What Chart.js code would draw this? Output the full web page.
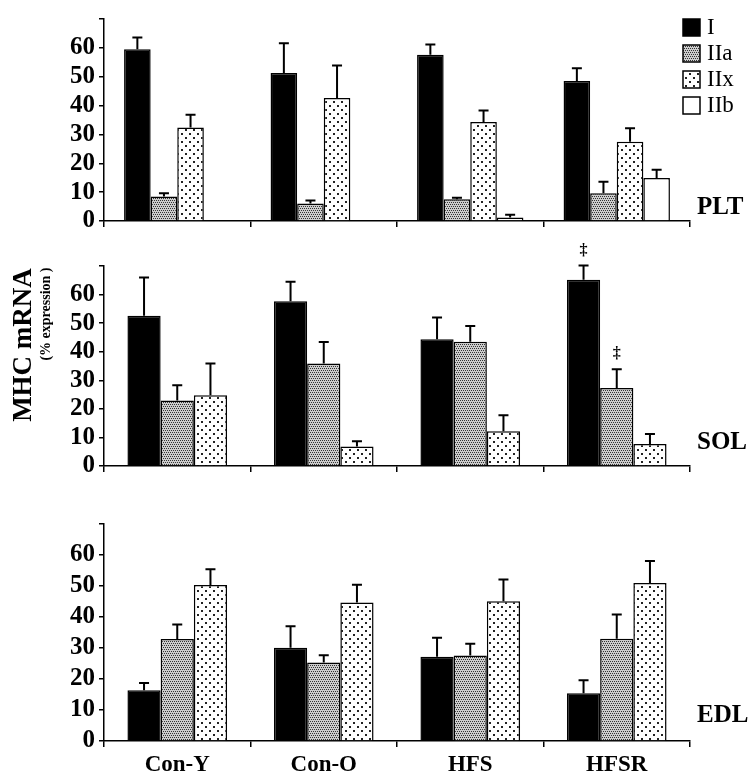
<!DOCTYPE html>
<html>
<head>
<meta charset="utf-8">
<script src="https://cdn.jsdelivr.net/npm/chart.js@4.4.1/dist/chart.umd.min.js"></script>
<style>
body { margin: 0; background: #fff; width: 756px; height: 783px; position: relative; overflow: hidden; font-family: 'Liberation Serif', 'Times New Roman', serif; }
.box { position: absolute; left: 0; width: 756px; }
.panel { position: absolute; left: 697px; font-weight: bold; font-size: 25px; line-height: 1; transform: translateY(-50%); }
.rot { position: absolute; transform: translate(-50%, -50%) rotate(-90deg); white-space: nowrap; font-weight: bold; line-height: 1; }
</style>
</head>
<body>
<div class="box" style="top:0;height:240px"><canvas id="pltChart"></canvas></div>
<div class="box" style="top:236px;height:249px"><canvas id="solChart"></canvas></div>
<div class="box" style="top:505px;height:278px"><canvas id="edlChart"></canvas></div>

<div class="panel" style="top:205px">PLT</div>
<div class="panel" style="top:440px">SOL</div>
<div class="panel" style="top:713px">EDL</div>

<div class="rot" style="left:22px;top:345px;font-size:27px">MHC mRNA</div>
<div class="rot" style="left:46px;top:314px;font-size:14px">(% expression )</div>

<script>
// DATA
const groups = ["Con-Y", "Con-O", "HFS", "HFSR"];
const seriesNames = ["I", "IIa", "IIx", "IIb"];
const yTickLabelMax = 60;

// PLT
const pltI = [59.5, 51.3, 57.6, 48.5];
const pltIErr = [4.1, 10.3, 3.6, 4.4];
const pltIIa = [8.5, 6.1, 7.5, 9.6];
const pltIIaErr = [1.1, 1.0, 0.6, 4.0];
const pltIIx = [32.4, 42.6, 34.3, 27.5];
const pltIIxErr = [4.4, 11.3, 4.0, 4.6];
const pltIIb = [null, null, 1.2, 14.9];
const pltIIbErr = [null, null, 1.0, 2.9];

// SOL
const solI = [52.6, 57.7, 44.4, 65.2];
const solIErr = [13.4, 6.8, 7.6, 5.0];
const solIIa = [22.9, 35.9, 43.5, 27.3];
const solIIaErr = [5.4, 7.5, 5.5, 6.6];
const solIIx = [24.8, 6.8, 12.2, 7.7];
const solIIxErr = [11.1, 1.9, 5.6, 3.5];
const solSigI = ["", "", "", "‡"];
const solSigIIa = ["", "", "", "‡"];

// EDL
const edlI = [16.4, 30.1, 27.2, 15.4];
const edlIErr = [2.3, 6.9, 6.1, 4.2];
const edlIIa = [32.9, 25.3, 27.6, 33.0];
const edlIIaErr = [4.7, 2.4, 3.8, 7.8];
const edlIIx = [50.3, 44.7, 45.1, 51.0];
const edlIIxErr = [5.1, 5.7, 7.0, 7.1];

Chart.defaults.font.family = "'Liberation Serif', 'Times New Roman', serif";
Chart.defaults.color = "#000";

// PATTERNS
function makePattern(kind) {
    let c = document.createElement("canvas");
    let g = c.getContext("2d");
    if (kind === "dense") {
        c.width = 4; c.height = 4;
        g.fillStyle = "#cccccc";
        g.fillRect(0, 0, 4, 4);
        g.fillStyle = "#333";
        g.fillRect(0, 0, 1, 1);
        g.fillRect(2, 0, 1, 1);
        g.fillRect(1, 2, 1, 1);
        g.fillRect(3, 2, 1, 1);
    } else {
        c.width = 8; c.height = 8;
        g.fillStyle = "#fff";
        g.fillRect(0, 0, 8, 8);
        g.fillStyle = "#222";
        g.fillRect(1, 1, 2, 2);
        g.fillRect(5, 5, 2, 2);
    }
    return g.createPattern(c, "repeat");
}

const fills = ["#000", makePattern("dense"), makePattern("sparse"), "#fff"];

function series(i, data, err, sig) {
    return {
        label: seriesNames[i],
        data: data,
        err: err,
        sig: sig,
        backgroundColor: fills[i],
        borderColor: "#000",
        borderWidth: 1.5
    };
}

// ERROR BARS + MARKERS
const errorBars = {
    id: "errorBars",
    afterDatasetsDraw(chart) {
        let ctx = chart.ctx;
        let y = chart.scales.y;
        ctx.save();
        ctx.strokeStyle = "#000";
        ctx.fillStyle = "#000";
        ctx.lineWidth = 2;
        chart.data.datasets.forEach((ds, i) => {
            let meta = chart.getDatasetMeta(i);
            meta.data.forEach((bar, j) => {
                let v = ds.data[j];
                if (v == null) return;
                let top = bar.y;
                let e = ds.err ? ds.err[j] : null;
                if (e) {
                    top = y.getPixelForValue(v + e);
                    ctx.beginPath();
                    ctx.moveTo(bar.x, bar.y);
                    ctx.lineTo(bar.x, top);
                    ctx.moveTo(bar.x - 5, top);
                    ctx.lineTo(bar.x + 5, top);
                    ctx.stroke();
                }
                if (ds.sig && ds.sig[j]) {
                    ctx.font = "bold 16px 'Liberation Serif'";
                    ctx.textAlign = "center";
                    ctx.textBaseline = "middle";
                    ctx.fillText(ds.sig[j], bar.x, top - 15);
                }
            });
        });
        ctx.restore();
    }
};

// LEGEND (top panel only)
const legendBoxes = {
    id: "legendBoxes",
    afterDraw(chart) {
        let ctx = chart.ctx;
        ctx.save();
        chart.data.datasets.forEach((ds, i) => {
            let top = 19 + i * 26;
            ctx.fillStyle = ds.backgroundColor;
            ctx.fillRect(683, top, 17, 17);
            ctx.strokeStyle = "#000";
            ctx.lineWidth = 1.5;
            ctx.strokeRect(683, top, 17, 17);
            ctx.fillStyle = "#000";
            ctx.font = "23px 'Liberation Serif'";
            ctx.textAlign = "left";
            ctx.textBaseline = "middle";
            ctx.fillText(ds.label, 707, top + 9);
        });
        ctx.restore();
    }
};

function makeChart(id, datasets, catPct, showX, padTop, xHeight, extra) {
    return new Chart(document.getElementById(id), {
        type: "bar",
        data: { labels: groups, datasets: datasets },
        plugins: [errorBars].concat(extra || []),
        options: {
            responsive: true,
            maintainAspectRatio: false,
            animation: false,
            layout: { padding: { top: padTop, right: 66, left: 0, bottom: 0 } },
            datasets: { bar: { categoryPercentage: catPct, barPercentage: 1 } },
            plugins: { legend: { display: false }, tooltip: { enabled: false } },
            scales: {
                x: {
                    grid: { offset: true, drawOnChartArea: false, drawTicks: true, tickLength: 6, color: "#000", lineWidth: 1.5 },
                    border: { color: "#000", width: 1.5 },
                    ticks: { display: showX, color: "#000", padding: 4, font: { size: 23, weight: "bold" } },
                    afterFit: s => { s.height = xHeight; }
                },
                y: {
                    min: 0,
                    max: 70,
                    grid: { drawOnChartArea: false, tickLength: 5, color: "#000", lineWidth: 1.5 },
                    border: { color: "#000", width: 1.5 },
                    ticks: {
                        stepSize: 10,
                        autoSkip: false,
                        padding: 4,
                        color: "#000",
                        font: { size: 25, weight: "bold" },
                        callback: v => v <= yTickLabelMax ? v : ""
                    },
                    afterFit: s => { s.width = 104; }
                }
            }
        }
    });
}

// INIT
makeChart("pltChart", [
    series(0, pltI, pltIErr),
    series(1, pltIIa, pltIIaErr),
    series(2, pltIIx, pltIIxErr),
    series(3, pltIIb, pltIIbErr)
], 0.726, false, 15, 13, [legendBoxes]);

makeChart("solChart", [
    series(0, solI, solIErr, solSigI),
    series(1, solIIa, solIIaErr, solSigIIa),
    series(2, solIIx, solIIxErr)
], 0.68, false, 30, 13);

makeChart("edlChart", [
    series(0, edlI, edlIErr),
    series(1, edlIIa, edlIIaErr),
    series(2, edlIIx, edlIIxErr)
], 0.68, true, 15, 42);
</script>
</body>
</html>
